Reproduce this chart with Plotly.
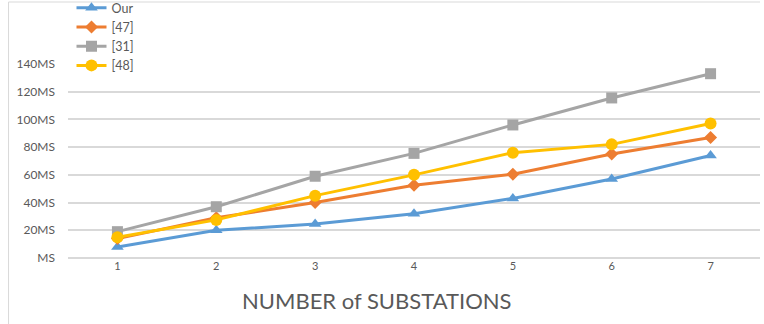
import plotly.graph_objects as go

# Response time per number of substations
substations = [1, 2, 3, 4, 5, 6, 7]
series_names = ["Our", "[47]", "[31]", "[48]"]
our_vals = [8, 20, 24.5, 32, 43, 57, 74]
ref47_vals = [14, 29, 40, 52.5, 60.5, 75, 87]
ref31_vals = [19, 37, 59, 75.5, 96, 115.5, 133]
ref48_vals = [15, 27.5, 45, 60, 76, 82, 97]
y_tick_vals = [0, 20, 40, 60, 80, 100, 120, 140]
y_tick_text = ["MS", "20MS", "40MS", "60MS", "80MS", "100MS", "120MS", "140MS"]

colors = ["#5b9bd5", "#ed7d31", "#a5a5a5", "#ffc000"]
symbols = ["triangle-up", "diamond", "square", "circle"]
sizes = [11, 10, 11, 12]

W, H = 764, 324
ML, MR, MT, MB = 67.5, 4, 64, 66
pw, ph = W - ML - MR, H - MT - MB

fig = go.Figure()
for name, vals, c, s, sz in zip(series_names, [our_vals, ref47_vals, ref31_vals, ref48_vals],
                                colors, symbols, sizes):
    fig.add_trace(go.Scatter(
        x=substations, y=vals, name=name, mode="lines+markers",
        line=dict(color=c, width=3),
        marker=dict(symbol=s, size=sz, color=c),
    ))

font_family = "Lato, 'Open Sans', sans-serif"

fig.update_layout(
    width=W, height=H,
    margin=dict(l=ML, r=MR, t=MT, b=MB, pad=0, autoexpand=False),
    paper_bgcolor="white", plot_bgcolor="white",
    font=dict(family=font_family, color="#595959", size=12),
    showlegend=True,
    legend=dict(
        x=(71 - ML) / pw, y=1 + (MT + 7) / ph, xanchor="left", yanchor="top",
        font=dict(size=12.5, color="#595959"),
        bgcolor="rgba(0,0,0,0)", tracegroupgap=0, itemwidth=30,
    ),
    xaxis=dict(
        range=[0.5, 7.5], tickvals=substations, ticktext=[str(v) for v in substations],
        showgrid=False, zeroline=False, showline=False, ticks="",
        tickfont=dict(size=11, color="#595959"), automargin=False,
    ),
    yaxis=dict(
        range=[0, 140], tickvals=y_tick_vals, ticktext=y_tick_text,
        showgrid=True, gridcolor="#d9d9d9", gridwidth=1.5,
        zeroline=True, zerolinecolor="#d9d9d9", zerolinewidth=1.5,
        showline=False, ticks="", ticklabelstandoff=12,
        tickfont=dict(size=12, color="#595959"), automargin=False,
    ),
    shapes=[
        # chart frame: top and left edges
        dict(type="line", xref="paper", yref="paper",
             x0=(8 - ML) / pw, x1=(760 - ML) / pw,
             y0=1 + (MT - 2) / ph, y1=1 + (MT - 2) / ph,
             line=dict(color="#d9d9d9", width=1)),
        dict(type="line", xref="paper", yref="paper",
             x0=(8 - ML) / pw, x1=(8 - ML) / pw,
             y0=-(MB) / ph, y1=1 + (MT - 2) / ph,
             line=dict(color="#d9d9d9", width=1)),
    ],
    annotations=[
        dict(text="NUMBER of SUBSTATIONS", xref="paper", yref="paper",
             x=(376 - ML) / pw, y=-(300 - MT - ph) / ph, xanchor="center", yanchor="middle",
             showarrow=False, font=dict(size=22, color="#595959", family=font_family)),
    ],
)

fig.write_html("out.html")
